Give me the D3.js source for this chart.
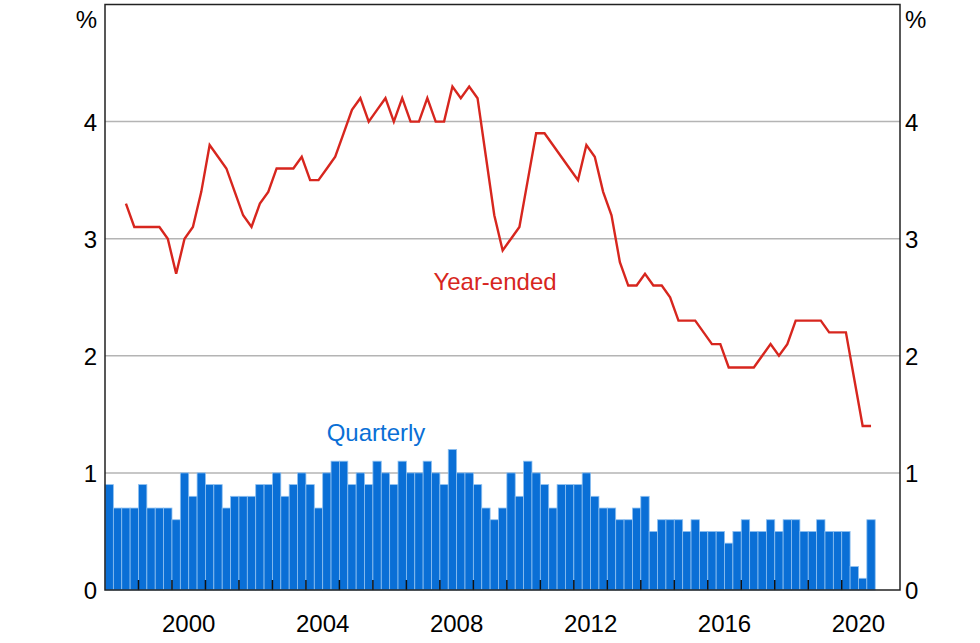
<!DOCTYPE html>
<html><head><meta charset="utf-8">
<script src="https://cdn.jsdelivr.net/npm/d3@7"></script>
<style>body{margin:0;background:#fff}text{font-family:Arial,"Liberation Sans",sans-serif}</style>
</head><body><svg id="c" width="980" height="643"></svg>
<script>
const startYear = 1998;
const quarterly = [0.9,0.7,0.7,0.7, 0.9,0.7,0.7,0.7, 0.6,1.0,0.8,1.0, 0.9,0.9,0.7,0.8,
 0.8,0.8,0.9,0.9, 1.0,0.8,0.9,1.0, 0.9,0.7,1.0,1.1, 1.1,0.9,1.0,0.9, 1.1,1.0,0.9,1.1,
 1.0,1.0,1.1,1.0, 0.9,1.2,1.0,1.0, 0.9,0.7,0.6,0.7, 1.0,0.8,1.1,1.0, 0.9,0.7,0.9,0.9,
 0.9,1.0,0.8,0.7, 0.7,0.6,0.6,0.7, 0.8,0.5,0.6,0.6, 0.6,0.5,0.6,0.5, 0.5,0.5,0.4,0.5,
 0.6,0.5,0.5,0.6, 0.5,0.6,0.6,0.5, 0.5,0.6,0.5,0.5, 0.5,0.2,0.1,0.6];
// year-ended starts at 1998 Q3
const yearEnded = [3.3,3.1,3.1,3.1,3.1,3.0,2.7,3.0,3.1,3.4,3.8,3.7,3.6,3.4,3.2,3.1,
 3.3,3.4,3.6,3.6,3.6,3.7,3.5,3.5,3.6,3.7,3.9,4.1,4.2,4.0,4.1,4.2,4.0,4.2,4.0,4.0,
 4.2,4.0,4.0,4.3,4.2,4.3,4.2,3.7,3.2,2.9,3.0,3.1,3.5,3.9,3.9,3.8,3.7,3.6,3.5,3.8,
 3.7,3.4,3.2,2.8,2.6,2.6,2.7,2.6,2.6,2.5,2.3,2.3,2.3,2.2,2.1,2.1,1.9,1.9,1.9,1.9,
 2.0,2.1,2.0,2.1,2.3,2.3,2.3,2.3,2.2,2.2,2.2,1.8,1.4,1.4];
const yTicks = [0,1,2,3,4];
const xLabels = [2000,2004,2008,2012,2016,2020];

const svg = d3.select("#c");
const L=105,R=900,T=4.5,B=590;
const x = d3.scaleLinear().domain([1998,2021.74]).range([L,R]);
const y = d3.scaleLinear().domain([0,5]).range([B,T]);
const qw = x(1998.25)-x(1998);
const red="#d7261e", blue="#0a6fd6";

svg.append("g").selectAll("line").data(yTicks.filter(d=>d>0)).join("line")
 .attr("x1",L).attr("x2",R).attr("y1",d=>y(d)).attr("y2",d=>y(d))
 .attr("stroke","#b4b4b4").attr("stroke-width",1.5);

svg.append("g").selectAll("rect").data(quarterly).join("rect")
 .attr("x",(d,i)=>x(startYear+i/4)).attr("width",qw)
 .attr("y",d=>y(d)).attr("height",d=>B-y(d))
 .attr("fill",blue).attr("stroke","#8ec0f0").attr("stroke-width",0.8);

const line = d3.line().x((d,i)=>x(startYear+0.5/4+(i+2)/4)).y(d=>y(d));
svg.append("path").datum(yearEnded).attr("d",line).attr("fill","none")
 .attr("stroke",red).attr("stroke-width",2.4).attr("stroke-linejoin","miter");

// year ticks
const years = d3.range(1999,2021);
svg.append("g").selectAll("line").data(years).join("line")
 .attr("x1",d=>x(d)).attr("x2",d=>x(d)).attr("y1",B).attr("y2",B-10)
 .attr("stroke","#111").attr("stroke-width",1.5);
svg.append("rect").attr("x",L).attr("y",T).attr("width",R-L).attr("height",B-T)
 .attr("fill","none").attr("stroke","#222").attr("stroke-width",1.5);

const fs=24;
svg.append("g").selectAll("text").data(yTicks).join("text")
 .attr("x",L-8).attr("y",d=>y(d)+9).attr("text-anchor","end").attr("font-size",fs).text(d=>d);
svg.append("g").selectAll("text").data(yTicks).join("text")
 .attr("x",R+5).attr("y",d=>y(d)+9).attr("text-anchor","start").attr("font-size",fs).text(d=>d);
svg.append("text").attr("x",L-8).attr("y",28).attr("text-anchor","end").attr("font-size",fs).text("%");
svg.append("text").attr("x",R+5).attr("y",28).attr("font-size",fs).text("%");
svg.append("g").selectAll("text").data(xLabels).join("text")
 .attr("x",d=>x(d+0.5)).attr("y",632).attr("text-anchor","middle").attr("font-size",fs).text(d=>d);

svg.append("text").attr("x",495).attr("y",290).attr("text-anchor","middle").attr("font-size",fs).attr("fill",red).text("Year-ended");
svg.append("text").attr("x",376).attr("y",441).attr("text-anchor","middle").attr("font-size",fs).attr("fill",blue).text("Quarterly");
</script></body></html>
